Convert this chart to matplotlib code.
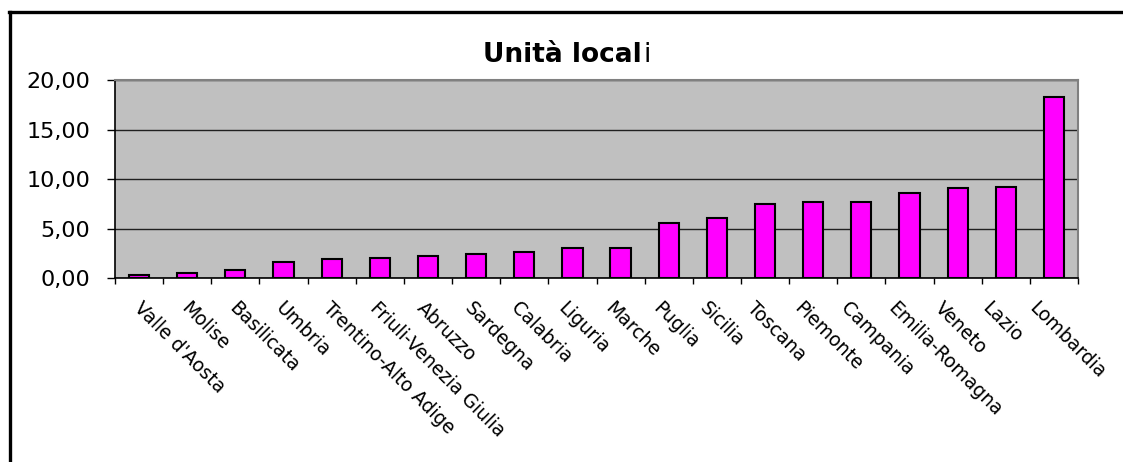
import numpy as np
import matplotlib
matplotlib.use("Agg")
import matplotlib.pyplot as plt
import matplotlib.transforms as mtransforms
from matplotlib.lines import Line2D
from matplotlib.ticker import FuncFormatter, FixedLocator

regioni = ["Valle d'Aosta", "Molise", "Basilicata", "Umbria", "Trentino-Alto Adige",
           "Friuli-Venezia Giulia", "Abruzzo", "Sardegna", "Calabria", "Liguria",
           "Marche", "Puglia", "Sicilia", "Toscana", "Piemonte", "Campania",
           "Emilia-Romagna", "Veneto", "Lazio", "Lombardia"]
unita_locali = [0.30, 0.50, 0.85, 1.60, 1.95, 2.05, 2.25, 2.45, 2.60, 3.00,
                3.00, 5.60, 6.05, 7.50, 7.70, 7.70, 8.60, 9.10, 9.20, 18.30]
y_ticks = [0, 5, 10, 15, 20]

W, H = 1123, 462
fig = plt.figure(figsize=(W / 100, H / 100), dpi=100)
fig.patch.set_facecolor("white")

# area del grafico (pixel -> frazioni)
left, right, top, bottom = 115, 1078, 80, 278
ax = fig.add_axes([left / W, 1 - bottom / H, (right - left) / W, (bottom - top) / H])
ax.set_facecolor("#c0c0c0")

x = np.arange(len(regioni))
ax.bar(x, unita_locali, width=0.42, color="#ff00ff", edgecolor="black",
       linewidth=1.5, zorder=3)

ax.set_xlim(-0.5, len(regioni) - 0.5)
ax.set_ylim(0, 20)
ax.set_yticks(y_ticks)
ax.yaxis.set_major_formatter(FuncFormatter(lambda v, p: f"{v:.2f}".replace(".", ",")))
ax.yaxis.grid(True, color="#202020", linewidth=1.0, zorder=1)
ax.set_axisbelow(True)

ax.set_xticks(x)
ax.set_xticklabels(regioni, rotation=-45, ha="left", va="top",
                   rotation_mode="anchor", fontsize=13.5)
ax.xaxis.set_minor_locator(FixedLocator(np.arange(-0.5, len(regioni), 1.0)))
ax.tick_params(axis="x", which="major", length=0, pad=15)
ax.tick_params(axis="x", which="minor", length=4, width=1, color="black")
ax.tick_params(axis="y", length=6, width=1, pad=12, labelsize=16, colors="black")

# le etichette sono un po' più fitte delle barre: piccolo spostamento progressivo
for i, lab in enumerate(ax.get_xticklabels()):
    dx = (5 - 1.05 * i) / 100
    lab.set_transform(lab.get_transform() +
                      mtransforms.ScaledTranslation(dx, 0, fig.dpi_scale_trans))

for s in ["left", "bottom"]:
    ax.spines[s].set_color("black")
    ax.spines[s].set_linewidth(1.2)
for s in ["top", "right"]:
    ax.spines[s].set_color("#808080")
    ax.spines[s].set_linewidth(1.5)

# titolo: "Unità local" in grassetto, ultima "i" normale
fig.text(642 / W, 1 - 62 / H, "Unità local", fontsize=19, fontweight="bold",
         ha="right", va="baseline")
fig.text(643 / W, 1 - 62 / H, "i", fontsize=19, ha="left", va="baseline")

# cornice esterna
fig.add_artist(Line2D([9.5 / W, 9.5 / W], [0, 1 - 12 / H], color="black",
                      linewidth=2.4, transform=fig.transFigure))
fig.add_artist(Line2D([8.5 / W, 1], [1 - 12 / H, 1 - 12 / H], color="black",
                      linewidth=2.4, transform=fig.transFigure))

fig.savefig("out.png", dpi=100)
